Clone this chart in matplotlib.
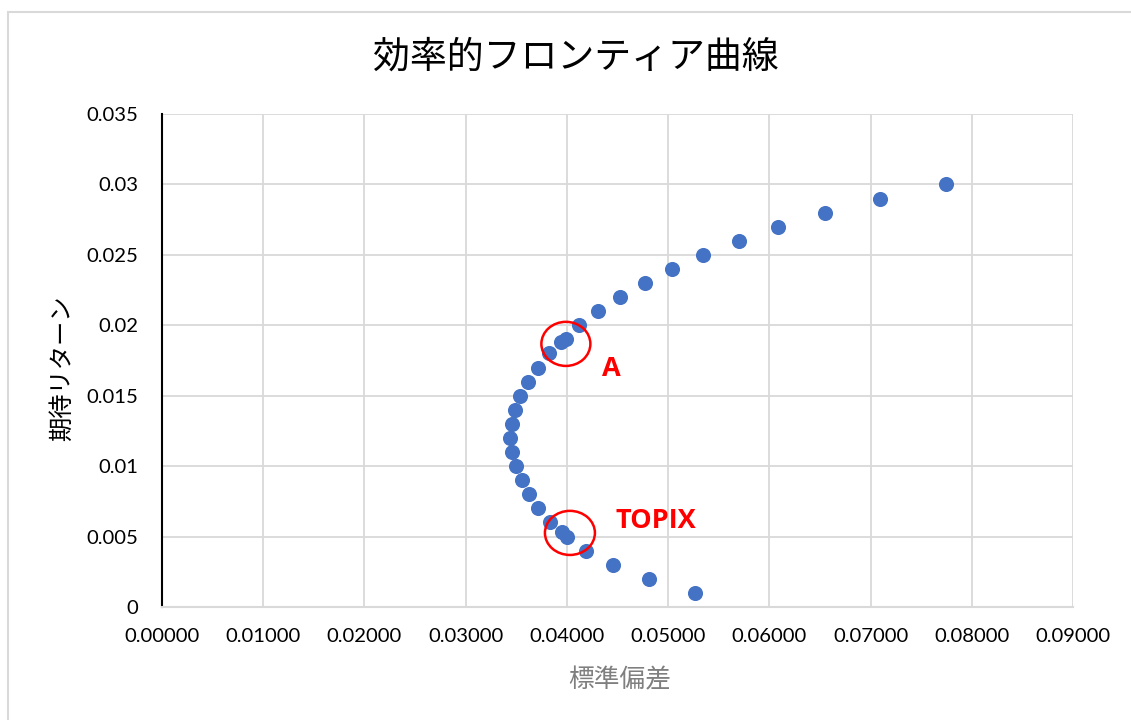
import matplotlib.pyplot as plt
from matplotlib.patches import Ellipse, Rectangle

# efficient frontier: portfolio std dev vs expected return
frontier_std = [0.0527, 0.0481, 0.0446, 0.0419, 0.0400, 0.0383, 0.0371, 0.0363,
                0.0356, 0.0350, 0.0346, 0.0344, 0.0346, 0.0349, 0.0354, 0.0362,
                0.0371, 0.0382, 0.0399, 0.0412, 0.0431, 0.0452, 0.0477, 0.0504,
                0.0534, 0.0570, 0.0609, 0.0655, 0.0709, 0.0775]
frontier_ret = [0.001, 0.002, 0.003, 0.004, 0.005, 0.006, 0.007, 0.008,
                0.009, 0.010, 0.011, 0.012, 0.013, 0.014, 0.015, 0.016,
                0.017, 0.018, 0.019, 0.020, 0.021, 0.022, 0.023, 0.024,
                0.025, 0.026, 0.027, 0.028, 0.029, 0.030]

# individual assets
asset_names = ["A", "TOPIX"]
asset_std = [0.0394, 0.0395]
asset_ret = [0.0188, 0.0053]

x_ticks = [0.00, 0.01, 0.02, 0.03, 0.04, 0.05, 0.06, 0.07, 0.08, 0.09]
y_ticks = [0, 0.005, 0.01, 0.015, 0.02, 0.025, 0.03, 0.035]
y_tick_labels = ["0", "0.005", "0.01", "0.015", "0.02", "0.025", "0.03", "0.035"]

BLUE = "#4472C4"
GRID = "#d9d9d9"
JP = ["Noto Sans CJK JP", "DejaVu Sans"]

fig = plt.figure(figsize=(11.31, 7.2), dpi=100)
fig.patches.append(Rectangle((8 / 1131, -0.1), 1.2, 1 - 12 / 720 + 0.1,
                             transform=fig.transFigure, fill=False,
                             edgecolor=GRID, linewidth=1.5))

ax = fig.add_axes([162 / 1131, 113 / 720, 911 / 1131, 493 / 720])
ax.scatter(frontier_std, frontier_ret, s=118, color=BLUE, zorder=3, linewidths=0)
ax.scatter(asset_std, asset_ret, s=118, color=BLUE, zorder=3, linewidths=0)

ax.set_xlim(0, 0.09)
ax.set_ylim(0, 0.035)
ax.set_xticks(x_ticks)
ax.set_xticklabels([f"{v:.5f}" for v in x_ticks])
ax.set_yticks(y_ticks)
ax.set_yticklabels(y_tick_labels)
ax.tick_params(length=0, labelsize=14.6, colors="black")
ax.tick_params(axis="x", pad=15)
ax.tick_params(axis="y", pad=17)
for lab in ax.get_xticklabels() + ax.get_yticklabels():
    lab.set_fontfamily("Lato")

ax.grid(True, color=GRID, linewidth=1.3, zorder=0)
ax.set_axisbelow(True)
for side in ["top", "right"]:
    ax.spines[side].set_visible(False)
ax.spines["bottom"].set_color(GRID)
ax.spines["bottom"].set_linewidth(1.5)
ax.spines["left"].set_color("black")
ax.spines["left"].set_linewidth(1.5)

# red circles and labels around the two assets
ax.add_patch(Ellipse((0.0399, 0.01868), 0.00484, 0.00313, fill=False,
                     edgecolor="red", linewidth=1.8, zorder=4))
ax.add_patch(Ellipse((0.0403, 0.00526), 0.00494, 0.00313, fill=False,
                     edgecolor="red", linewidth=1.8, zorder=4))
ax.text(0.0444, 0.0169, asset_names[0], color="red", fontsize=19.5, fontweight="bold",
        family="Open Sans", ha="center", va="center")
ax.text(0.0488, 0.0061, asset_names[1], color="red", fontsize=19.5, fontweight="bold",
        family="Open Sans", ha="center", va="center")

fig.text(576 / 1131, 1 - 57 / 720, "効率的フロンティア曲線", fontsize=26.6, family=JP,
         ha="center", va="center")
fig.text(620 / 1131, 1 - 680 / 720, "標準偏差", fontsize=18.5, family=JP,
         color="#7f7f7f", ha="center", va="center")
fig.text(62 / 1131, 1 - 368 / 720, "期待リターン", fontsize=17.5, family=JP,
         rotation=90, ha="center", va="center")

fig.savefig("out.png", dpi=100)
